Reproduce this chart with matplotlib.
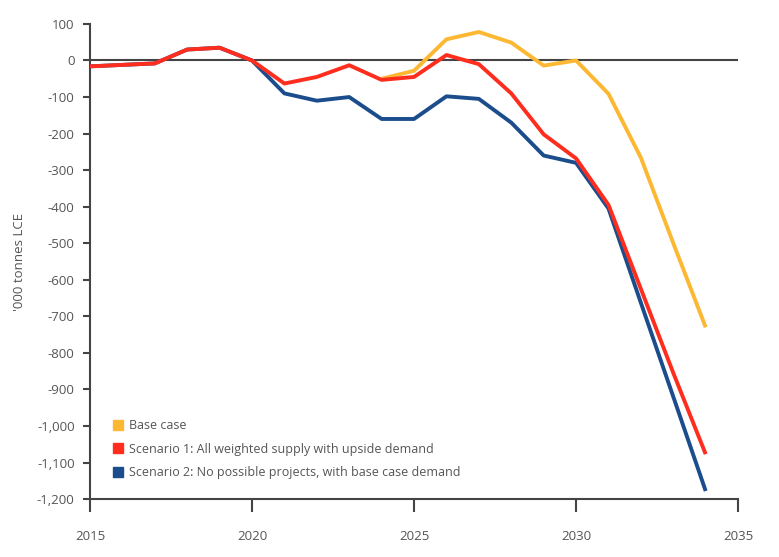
import matplotlib
matplotlib.use("Agg")
import matplotlib.pyplot as plt
from matplotlib.lines import Line2D
from matplotlib.ticker import FuncFormatter

# data ('000 tonnes LCE)
years = list(range(2015, 2035))
scenario1 = [-16, -12, -8, 30, 35, 0, -63, -45, -13, -53, -45, 15, -10, -90,
             -202, -268, -395, -625, -855, -1077]
scenario2 = [-16, -12, -8, 30, 35, 0, -90, -110, -100, -160, -160, -98, -105, -170,
             -260, -280, -405, -663, -920, -1178]
base_years = list(range(2024, 2035))
base_case = [-50, -28, 58, 78, 49, -14, 0, -91, -266, -500, -730]

labels = ["Base case",
          "Scenario 1: All weighted supply with upside demand",
          "Scenario 2: No possible projects, with base case demand"]
colors = ["#FDB833", "#FF2D1E", "#1B4C8C"]

x_ticks = [2015, 2020, 2025, 2030, 2035]
y_ticks = list(range(-1200, 101, 100))

grey = "#555555"
plt.rcParams['font.family'] = ['Open Sans', 'DejaVu Sans']

fig = plt.figure(figsize=(7.79, 5.57), dpi=100)
ax = fig.add_axes([0.1155, 0.104, 0.832, 0.853])

ax.axhline(0, color="#444444", lw=1.5, zorder=1)
ax.plot(base_years, base_case, color=colors[0], lw=2.8, solid_capstyle='butt', zorder=2)
ax.plot(years, scenario2, color=colors[2], lw=2.8, solid_capstyle='butt', zorder=3)
ax.plot(years, scenario1, color=colors[1], lw=2.8, solid_capstyle='butt', zorder=4)

ax.set_xlim(2015, 2035)
ax.set_ylim(-1200, 100)
ax.set_xticks(x_ticks)
ax.set_yticks(y_ticks)
ax.yaxis.set_major_formatter(FuncFormatter(lambda v, p: f"{v:,.0f}"))

for s in ["top", "right"]:
    ax.spines[s].set_visible(False)
for s in ["left", "bottom"]:
    ax.spines[s].set_color("#444444")
    ax.spines[s].set_linewidth(1.5)

ax.tick_params(axis='y', length=5, width=1.5, color="#444444", labelsize=9.5,
               labelcolor=grey, pad=6)
ax.tick_params(axis='x', length=9, width=1.5, color="#444444", labelsize=9.5,
               labelcolor=grey, pad=13)

ax.set_ylabel("'000 tonnes LCE", fontsize=9.5, color=grey, labelpad=8)

handles = [Line2D([], [], marker='s', linestyle='none', markersize=6.5,
                  markerfacecolor=c, markeredgecolor=c) for c in colors]
ax.legend(handles, labels, loc='lower left', bbox_to_anchor=(0.012, 0.026),
          frameon=False, fontsize=9, labelcolor=grey, handletextpad=-0.1,
          labelspacing=0.85, borderaxespad=0.2)

fig.savefig("out.png", dpi=100)
